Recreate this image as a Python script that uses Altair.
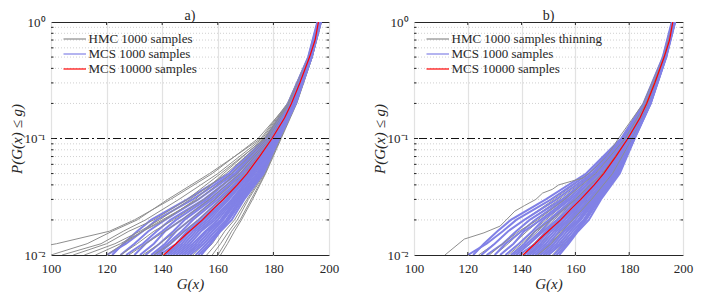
import altair as alt
import pandas as pd

# ---------------- data ----------------
# probability levels at which the sample curves are read
levels = [0.01, 0.0125, 0.016, 0.02, 0.03, 0.05, 0.1, 0.2, 0.5, 1.0]

# reference curve, MCS 10000 samples
red_p = [0.01, 0.0125, 0.015, 0.02, 0.025, 0.03, 0.04, 0.05, 0.07, 0.1, 0.15, 0.2, 0.3, 0.5, 0.7, 1.0]
red_x = [140.5, 145, 148.5, 154.5, 158.5, 162, 167, 170.5, 175, 179.5, 184, 186.5, 189.5, 193, 195, 196.2]

# MCS 1000 samples curves (x at each probability level)
blue_x = [
    [120, 127, 133, 138, 151, 165, 177.5, 185.5, 192.6, 196.0],
    [122, 126, 131, 136, 149, 164, 177, 185.3, 192.5, 195.8],
    [125, 130, 135, 141, 153, 166, 178, 186, 192.8, 196.1],
    [127, 133, 138, 143, 155, 167, 178.5, 186.2, 193.0, 196.3],
    [130, 134, 140, 145, 156, 166.5, 178, 186, 192.9, 196.0],
    [132, 137, 141, 147, 157, 168, 179, 186.4, 193.0, 196.4],
    [134, 139, 144, 148, 158, 169, 179.2, 186.5, 193.1, 196.2],
    [136, 141, 145, 150, 159, 168.5, 178.8, 186.3, 192.9, 196.1],
    [137, 142, 147, 151, 160, 170, 179.5, 186.6, 193.1, 196.5],
    [138, 143, 148, 153, 161, 170.5, 179.6, 186.7, 193.2, 196.3],
    [139, 145, 149, 154, 162, 171, 180, 186.8, 193.2, 196.6],
    [141, 146, 150, 155, 163, 170.8, 179.7, 186.5, 193.0, 196.2],
    [142, 147, 151, 156, 163.5, 171.5, 180.2, 187, 193.3, 196.4],
    [143, 148, 152, 157, 164, 172, 180.4, 187.1, 193.3, 196.7],
    [144, 149, 153, 158, 165, 172.5, 180.5, 187, 193.2, 196.5],
    [145, 150, 154, 159, 165.5, 173, 180.8, 187.3, 193.4, 196.8],
    [146, 151, 155.5, 160, 166, 173.2, 181, 187.4, 193.5, 196.6],
    [147, 152, 156, 161, 166.5, 174, 181.2, 187.5, 193.5, 196.9],
    [148, 153, 157, 161.5, 167, 174.5, 181.3, 187.6, 193.6, 196.7],
    [149, 154, 158, 162, 167.5, 175, 181.5, 187.7, 193.6, 197.0],
    [150, 155, 159, 163, 168, 175.5, 181.7, 187.8, 193.7, 196.8],
    [152, 156, 160, 163.5, 168.5, 176, 182, 188, 193.7, 197.0],
    [153, 157, 160.5, 164, 169, 176, 181.8, 187.9, 193.6, 196.9],
    [154, 157.5, 161, 165, 169.5, 176.5, 182, 188, 193.8, 197.1],
]

# HMC 1000 samples curves, panel a)
gray_a_x = [
    [80, 102, 121, 130, 143, 158, 174.5, 185.5, 192.6, 196.0],
    [100, 113, 122, 131, 142, 157, 175.5, 185, 192.5, 196.1],
    [104, 118, 126, 134, 146, 160, 176, 185.3, 192.6, 196.0],
    [108, 120, 128, 137, 149, 161, 177, 185.6, 192.7, 196.2],
    [112, 123, 132, 139, 150, 163, 177.5, 186, 192.8, 196.3],
    [116, 125, 133, 141, 152, 162, 176.5, 185.8, 192.7, 196.1],
    [120, 126, 133, 140, 153, 165, 178, 186, 192.9, 196.2],
    [125, 131, 137, 144, 155, 167, 178.5, 186.2, 193, 196.4],
    [128, 134, 141, 147, 157, 168, 179, 186.5, 193.1, 196.3],
    [133, 139, 145, 150, 159, 169.5, 179.5, 186.7, 193.2, 196.6],
    [137, 143, 148, 153, 161, 171, 180, 186.9, 193.3, 196.5],
    [141, 147, 151, 156, 163.5, 172, 180.5, 187.1, 193.3, 196.8],
    [145, 150, 154, 158, 165.5, 173.5, 181, 187.3, 193.5, 196.7],
    [149, 153, 157, 161, 167, 175, 181.5, 187.6, 193.6, 197.0],
    [151, 155, 159, 163, 168.5, 175.5, 182, 187.8, 193.7, 196.9],
    [154, 158, 161, 165, 169.5, 176, 182.2, 188, 193.8, 197.1],
    [156, 159.5, 162.5, 166, 170.5, 176.5, 182.5, 188.1, 193.9, 197.2],
    [158, 161, 164, 167, 171, 176.8, 182.3, 188.2, 193.9, 197.0],
    [160, 162.5, 165, 168, 172, 177, 182.5, 188.3, 194.0, 197.2],
    [161, 163.5, 166, 168.5, 172.5, 177.2, 182.8, 188.4, 194.0, 197.3],
]

# HMC 1000 samples thinning curves, panel b)
gray_b_x = [
    [124, 130, 135, 141, 152, 165, 177.5, 185.6, 192.7, 196.1],
    [127, 133, 138, 143, 154, 166.5, 178, 185.9, 192.8, 196.2],
    [130, 135, 140, 145, 155.5, 167, 178.3, 186.1, 192.9, 196.0],
    [132, 137, 142, 147, 157, 168, 178.8, 186.3, 193, 196.3],
    [134, 139, 144, 149, 158, 169, 179.2, 186.5, 193.1, 196.4],
    [136, 141, 146, 150.5, 159.5, 169.5, 179.5, 186.6, 193.1, 196.2],
    [138, 143, 147.5, 152, 160.5, 170.5, 179.8, 186.8, 193.2, 196.5],
    [139.5, 144.5, 149, 153.5, 161.5, 171, 180, 186.9, 193.2, 196.6],
    [141, 146, 150.5, 155, 162.5, 171.5, 180.3, 187, 193.3, 196.4],
    [142.5, 147.5, 152, 156, 163.5, 172.5, 180.6, 187.2, 193.4, 196.7],
    [144, 149, 153, 157.5, 164.5, 173, 180.8, 187.3, 193.4, 196.6],
    [145.5, 150.5, 154.5, 158.5, 165.5, 173.5, 181, 187.4, 193.5, 196.8],
    [147, 152, 156, 160, 166.5, 174, 181.2, 187.5, 193.5, 196.9],
    [148.5, 153, 157, 161, 167, 174.5, 181.4, 187.6, 193.6, 196.7],
    [150, 154.5, 158, 162, 168, 175, 181.6, 187.7, 193.6, 197.0],
    [151.5, 155.5, 159, 163, 168.5, 175.5, 181.8, 187.8, 193.7, 196.9],
    [153, 156.5, 160, 164, 169, 176, 182, 188, 193.7, 197.1],
    [128, 133, 139, 146, 156, 167.5, 178.5, 186.2, 192.9, 196.3],
    [135, 140, 145, 151, 160, 170, 179.6, 186.7, 193.1, 196.5],
    [146, 151, 155, 159, 166, 173.8, 181.1, 187.4, 193.5, 196.8],
]

# the one HMC (thinning) curve that runs well above the others in panel b)
outlier_b_p = [0.01, 0.0137, 0.0155, 0.0177, 0.0238, 0.0265, 0.030, 0.034, 0.0366, 0.040, 0.043, 0.046,
               0.055, 0.072, 0.1, 0.2, 0.5, 1.0]
outlier_b_x = [111.5, 118.7, 126, 132, 137.5, 141, 145.3, 147.8, 151.4, 153.8, 158.6, 163,
               167, 172, 176, 185.2, 192.6, 196.0]

threshold = [0.1]
x_ticks = [100, 120, 140, 160, 180, 200]
y_ticks = [0.01, 0.1, 1]
y_minor = [0.02, 0.03, 0.04, 0.05, 0.06, 0.07, 0.08, 0.09, 0.2, 0.3, 0.4, 0.5, 0.6, 0.7, 0.8, 0.9]

labels_a = ["HMC 1000 samples", "MCS 1000 samples", "MCS 10000 samples"]
labels_b = ["HMC 1000 samples thinning", "MCS 1000 samples", "MCS 10000 samples"]

# ---------------- styling ----------------
GRAY = "#8e8e8e"
BLUE = "#8181e6"
RED = "#ff0000"
INK = "#262626"
FONT = "Liberation Serif"
H = 233

XS = alt.Scale(domain=[100, 200], nice=False, zero=False)
YS = alt.Scale(type="log", domain=[0.01, 1], nice=False)
AX = alt.Axis(values=x_ticks, grid=True, gridColor="#e2e2e2", gridWidth=1.2,
              title="G(x)", labelFlush=False, labelPadding=7, titlePadding=1)
AY = alt.Axis(values=y_ticks, grid=False, title="P(G(x) ≤ g)", labelFlush=False,
              labelExpr="datum.value > 0.5 ? '10⁰' : (datum.value > 0.05 ? '10⁻¹' : '10⁻²')",
              labelPadding=6, titlePadding=0)


def X(f="x"):
    return alt.X(f"{f}:Q", scale=XS, axis=AX)


def Y(f="p"):
    return alt.Y(f"{f}:Q", scale=YS, axis=AY)


def bundle(gray, blue, extra=None):
    rows = []
    n = max(len(gray), len(blue))
    for i in range(n):
        if i < len(gray):
            for p, x in zip(levels, gray[i]):
                rows.append({"line": f"g{i:02d}", "series": "HMC", "x": x, "p": p})
        if i < len(blue):
            for p, x in zip(levels, blue[i]):
                rows.append({"line": f"b{i:02d}", "series": "MCS", "x": x, "p": p})
        if extra is not None and i == 3:
            for p, x in zip(extra[0], extra[1]):
                rows.append({"line": "gout", "series": "HMC", "x": x, "p": p})
    return pd.DataFrame(rows)


def panel(df, title, labels, W):
    minor = alt.Chart(pd.DataFrame({"p": y_minor})).mark_rule(
        color="#c4c4c4", strokeDash=[1, 2], strokeWidth=0.8
    ).encode(y=Y())

    lines = alt.Chart(df).mark_line(clip=True).encode(
        x=X(), y=Y(),
        color=alt.Color("series:N", scale=alt.Scale(domain=["HMC", "MCS"], range=[GRAY, BLUE]), legend=None),
        strokeWidth=alt.StrokeWidth("series:N", scale=alt.Scale(domain=["HMC", "MCS"], range=[1.0, 2.0]),
                                    legend=None),
        detail="line:N",
    )

    red = alt.Chart(pd.DataFrame({"x": red_x, "p": red_p})).mark_line(
        color=RED, strokeWidth=1.2, clip=True
    ).encode(x=X(), y=Y())

    thr = alt.Chart(pd.DataFrame({"p": threshold})).mark_rule(
        color="#111111", strokeWidth=1.1, strokeDash=[8, 3, 2, 3]
    ).encode(y=Y())

    xt_df = pd.DataFrame({"x": x_ticks[1:-1]})
    xt_bot = alt.Chart(xt_df).mark_rule(color=INK).encode(x=X(), y=alt.value(H), y2=alt.value(H - 3))
    xt_top = alt.Chart(xt_df).mark_rule(color=INK).encode(x=X(), y=alt.value(0), y2=alt.value(3))
    ym_df = pd.DataFrame({"p": y_minor})
    ym_l = alt.Chart(ym_df).mark_rule(color=INK).encode(y=Y(), x=alt.value(0), x2=alt.value(2.5))
    ym_r = alt.Chart(ym_df).mark_rule(color=INK).encode(y=Y(), x=alt.value(W), x2=alt.value(W - 2.5))
    yM_df = pd.DataFrame({"p": y_ticks[1:2]})
    yM_l = alt.Chart(yM_df).mark_rule(color=INK).encode(y=Y(), x=alt.value(0), x2=alt.value(4))
    yM_r = alt.Chart(yM_df).mark_rule(color=INK).encode(y=Y(), x=alt.value(W), x2=alt.value(W - 4))

    leg = []
    for i, (lab, col) in enumerate(zip(labels, [GRAY, BLUE, RED])):
        yy = 17 + 15 * i
        d = pd.DataFrame({"label": [lab]})
        leg.append(alt.Chart(d).mark_rule(color=col, strokeWidth=1.2).encode(
            x=alt.value(12.5), x2=alt.value(35), y=alt.value(yy)))
        leg.append(alt.Chart(d).mark_text(align="left", baseline="middle", font=FONT,
                                          fontSize=13, color=INK).encode(
            x=alt.value(37.5), y=alt.value(yy), text="label:N"))

    return alt.layer(minor, lines, red, thr, xt_bot, xt_top, ym_l, ym_r, yM_l, yM_r, *leg).properties(
        width=W, height=H,
        title=alt.TitleParams(title, font=FONT, fontSize=14, fontWeight="normal", color=INK,
                              anchor="middle", offset=-7),
    )


pa = panel(bundle(gray_a_x, blue_x), "a)", labels_a, 278)
pb = panel(bundle(gray_b_x, blue_x, (outlier_b_p, outlier_b_x)), "b)", labels_b, 269)

chart = alt.hconcat(pa, pb, spacing=31).configure_view(
    stroke=INK, strokeWidth=1
).configure_axis(
    domain=False, ticks=False,
    labelFont=FONT, labelFontSize=13, labelColor=INK,
    titleFont=FONT, titleFontSize=15, titleFontStyle="italic", titleFontWeight="normal", titleColor=INK,
).properties(padding={"left": 0, "top": 0, "right": 0, "bottom": 0})

chart.save("out.html", embed_options={"renderer": "svg", "actions": False})
